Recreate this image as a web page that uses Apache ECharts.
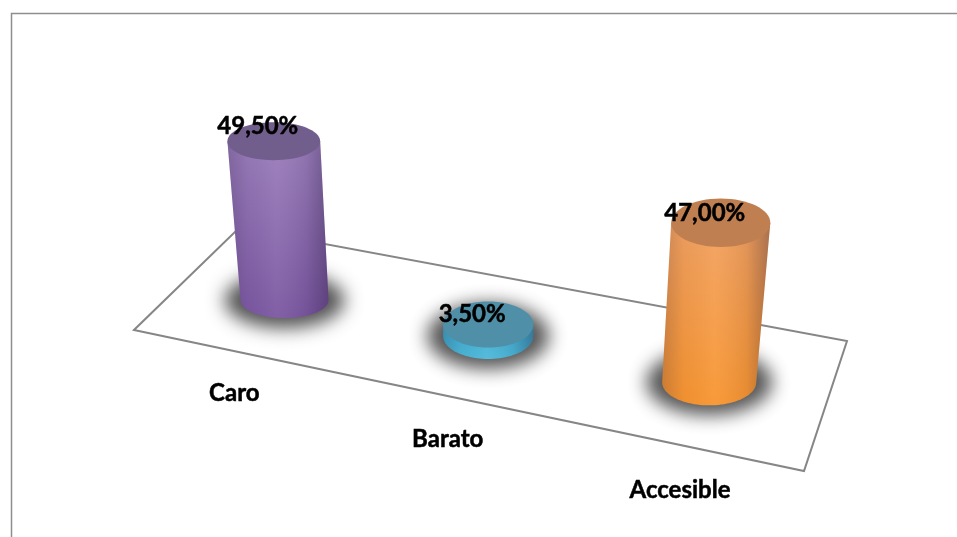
<!DOCTYPE html>
<html>
<head>
<meta charset="utf-8">
<title>Percepción del precio</title>
<style>html,body{margin:0;padding:0;background:#fff}#chart{width:957px;height:537px}</style>
<script src="https://cdn.jsdelivr.net/npm/echarts@6/dist/echarts.min.js"></script>
</head>
<body>
<div id="chart"></div>
<script>
// Chart content
const categories = ['Caro', 'Barato', 'Accesible'];
const shares = [49.5, 3.5, 47];

// Where each cylinder stands on the floor, as fractions along and across it
const seatAlong = [0.172, 0.4995, 0.835];
const seatAcross = [0.46, 0.495, 0.475];

// Cylinder appearance, one entry per category
const radiusX = [44, 45, 47];
const radiusY = [18, 23, 23];
const topFace = ['#725e8c', '#4f8fa7', '#c07f50'];
const sideUpper = ['#9a7dbb', '#3fa9cc', '#f2a160'];
const sideLower = ['#7b57a1', '#4cb8da', '#f8952f'];

// Tilted floor outline: front-left, front-right, back-right, back-left
const floor = [[134, 330], [804, 471], [847, 341], [239, 228]];
const FONT = 'bold 24px Lato, "Open Sans", sans-serif';
const OFFSCREEN = 3000;

// Perspective map from the unit square onto the floor outline
const project = (function () {
  const [p0, p1, p2, p3] = floor;
  const sx = p0[0] - p1[0] + p2[0] - p3[0], sy = p0[1] - p1[1] + p2[1] - p3[1];
  const dx1 = p1[0] - p2[0], dy1 = p1[1] - p2[1], dx2 = p3[0] - p2[0], dy2 = p3[1] - p2[1];
  const den = dx1 * dy2 - dx2 * dy1;
  const g = (sx * dy2 - dx2 * sy) / den, h = (dx1 * sy - sx * dy1) / den;
  const a = p1[0] - p0[0] + g * p1[0], b = p3[0] - p0[0] + h * p3[0];
  const d = p1[1] - p0[1] + g * p1[1], e = p3[1] - p0[1] + h * p3[1];
  return function (u, v) {
    const w = g * u + h * v + 1;
    return { x: (a * u + b * v + p0[0]) / w, y: (d * u + e * v + p0[1]) / w, w: w };
  };
})();

const GRID = { left: 0, top: 0, width: 957, height: 320 };

function sidePoints(t, b, trx, brx, bry) {
  // Left edge, lower half of the base ellipse, right edge
  const pts = [[t.x - trx, t.y]];
  for (let i = 0; i <= 48; i++) {
    const ang = Math.PI - Math.PI * i / 48;
    pts.push([b.x + brx * Math.cos(ang), b.y + bry * Math.sin(ang)]);
  }
  pts.push([t.x + trx, t.y]);
  return pts;
}

function labelStyle(x, y, text) {
  return {
    x: x, y: y, text: text, font: FONT,
    fill: '#000', stroke: '#000', lineWidth: 0.5,
    align: 'center', verticalAlign: 'middle'
  };
}

function renderCylinder(params, api) {
  const i = api.value(0);
  const value = api.value(1);
  const u = (api.coord([i, 0])[0] - GRID.left) / GRID.width;
  const base = project(seatAlong[i], seatAcross[i]);
  // Things nearer the camera (lower on screen) render taller
  const h = api.size([0, value])[1] * (1 + (base.y - 296) * 0.0007);
  // Verticals splay outwards from the middle of the picture
  const top = { x: base.x + (base.x - 490) * h * 3.3e-4, y: base.y - h };
  const grow = 1 + h * 3.4e-4;
  const rx = radiusX[i], ry = radiusY[i];
  const pts = sidePoints(top, base, rx * grow, rx, ry);
  const foot = project(u, 0);
  return {
    type: 'group',
    children: [
      {
        // Soft contact shadow: only the blurred shadow of this ellipse lands on the canvas
        type: 'ellipse',
        shape: { cx: base.x - OFFSCREEN, cy: base.y, rx: rx + 16, ry: ry + 10 },
        style: { fill: '#000', shadowBlur: 18, shadowColor: 'rgba(60,60,60,0.88)', shadowOffsetX: OFFSCREEN }
      },
      {
        type: 'polygon',
        shape: { points: pts },
        style: {
          fill: { type: 'linear', x: 0, y: 0, x2: 0, y2: 1, colorStops: [
            { offset: 0, color: sideUpper[i] }, { offset: 1, color: sideLower[i] }
          ] }
        }
      },
      {
        type: 'polygon',
        shape: { points: pts },
        style: {
          fill: { type: 'linear', x: 0, y: 0, x2: 1, y2: 0, colorStops: [
            { offset: 0, color: 'rgba(30,20,50,0.20)' },
            { offset: 0.2, color: 'rgba(30,20,50,0.04)' },
            { offset: 0.48, color: 'rgba(255,255,255,0.05)' },
            { offset: 0.78, color: 'rgba(30,20,50,0.08)' },
            { offset: 1, color: 'rgba(30,20,50,0.34)' }
          ] }
        }
      },
      {
        type: 'ellipse',
        shape: { cx: top.x, cy: top.y, rx: rx * grow, ry: ry * grow },
        style: { fill: topFace[i] }
      },
      {
        type: 'text',
        style: labelStyle(top.x - 16, top.y + ry - 33, value.toFixed(2).replace('.', ',') + '%')
      },
      {
        type: 'text',
        style: labelStyle(foot.x, foot.y + 41 / foot.w, categories[i])
      }
    ]
  };
}

const chart = echarts.init(document.getElementById('chart'));
chart.setOption({
  animation: false,
  backgroundColor: '#fff',
  grid: GRID,
  xAxis: { type: 'category', data: categories, show: false },
  yAxis: { type: 'value', min: 0, max: 100, show: false },
  graphic: [
    {
      type: 'polyline', z: 0, silent: true,
      shape: { points: [[11.5, 537], [11.5, 13.5], [957, 13.5]] },
      style: { fill: null, stroke: '#8e8e8e', lineWidth: 1.5 }
    },
    {
      type: 'polygon', z: 0, silent: true,
      shape: { points: floor },
      style: { fill: null, stroke: '#868686', lineWidth: 2 }
    }
  ],
  series: [{
    type: 'custom',
    z: 5,
    clip: false,
    renderItem: renderCylinder,
    encode: { x: 0, y: 1 },
    data: shares.map((v, i) => [i, v])
  }]
});
</script>
</body>
</html>
